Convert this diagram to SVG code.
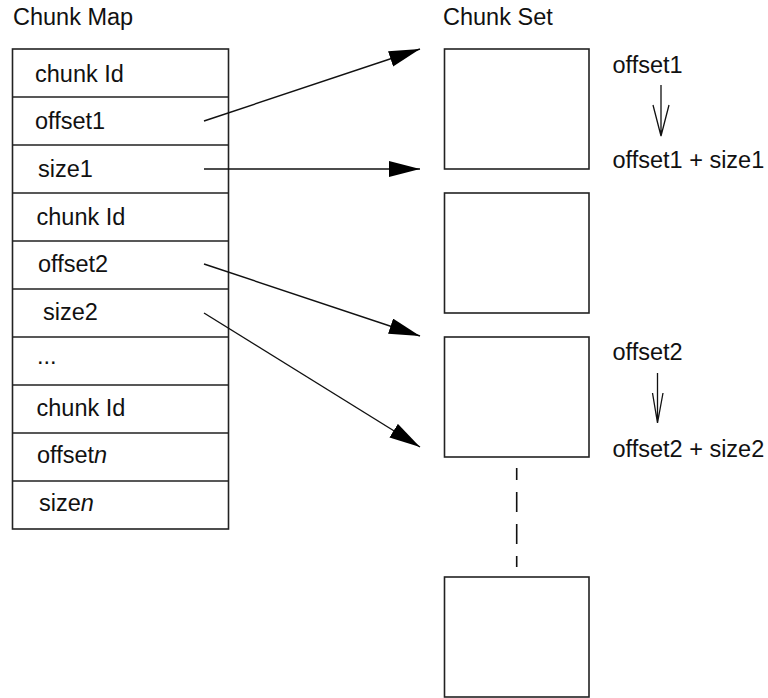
<svg xmlns="http://www.w3.org/2000/svg" width="768" height="698" viewBox="0 0 768 698">
<style>
text{font-family:"Liberation Sans",Arial,Helvetica,sans-serif;font-size:23.5px;fill:#111}
.box{fill:#fff;stroke:#222;stroke-width:1.6}
.sep{stroke:#222;stroke-width:1.6}
.conn{stroke:#111;stroke-width:1.4;fill:none}
.open{stroke:#111;stroke-width:1.3;fill:none}
.dash{stroke:#111;stroke-width:1.6;stroke-dasharray:20 12;stroke-dashoffset:8}
</style>
<defs>
<marker id="ah" markerUnits="userSpaceOnUse" markerWidth="32" markerHeight="18" refX="31" refY="8" orient="auto">
<path d="M0,0 L31,8 L0,16 Z" fill="#000"/>
</marker>
</defs>
<rect width="768" height="698" fill="#fff"/>
<text x="13" y="25">Chunk Map</text>
<text x="443" y="25">Chunk Set</text>
<g id="chunk-map">
<rect class="box" x="12.5" y="49" width="216" height="480"/>
<path class="sep" d="M12.5 97H228.5M12.5 145H228.5M12.5 193H228.5M12.5 241H228.5M12.5 289H228.5M12.5 337H228.5M12.5 385H228.5M12.5 433H228.5M12.5 481H228.5"/>
<text x="35" y="82">chunk Id</text>
<text x="35" y="129">offset1</text>
<text x="38" y="177">size1</text>
<text x="36.5" y="225">chunk Id</text>
<text x="38" y="272">offset2</text>
<text x="43" y="320">size2</text>
<text x="37" y="364">...</text>
<text x="36.5" y="416">chunk Id</text>
<text x="37" y="463">offset<tspan font-style="italic">n</tspan></text>
<text x="39" y="511">size<tspan font-style="italic">n</tspan></text>
</g>
<g id="chunk1"><rect class="box" x="444.5" y="49" width="144.5" height="120"/></g>
<g id="chunk2"><rect class="box" x="444.5" y="193" width="144.5" height="120"/></g>
<g id="chunk3"><rect class="box" x="444.5" y="337" width="144.5" height="120"/></g>
<g id="chunk4"><rect class="box" x="444.5" y="577" width="144.5" height="120"/></g>
<g id="range1">
<text x="612.5" y="73">offset1</text>
<text x="612.5" y="168">offset1 + size1</text>
<path class="open" d="M661 85V136M653 105L661 136L669 105"/>
</g>
<g id="range2">
<text x="612.5" y="360">offset2</text>
<text x="612.5" y="457">offset2 + size2</text>
<path class="open" d="M657.5 373V423M652.5 393L657.5 423L663 393"/>
</g>
<g id="connectors">
<line class="conn" x1="204" y1="121" x2="420" y2="49" marker-end="url(#ah)"/>
<line class="conn" x1="204" y1="169" x2="420" y2="169" marker-end="url(#ah)"/>
<line class="conn" x1="204" y1="264" x2="420" y2="336" marker-end="url(#ah)"/>
<line class="conn" x1="204" y1="313" x2="420" y2="447" marker-end="url(#ah)"/>
<line class="dash" x1="516.7" y1="468" x2="516.7" y2="567"/>
</g>
</svg>
